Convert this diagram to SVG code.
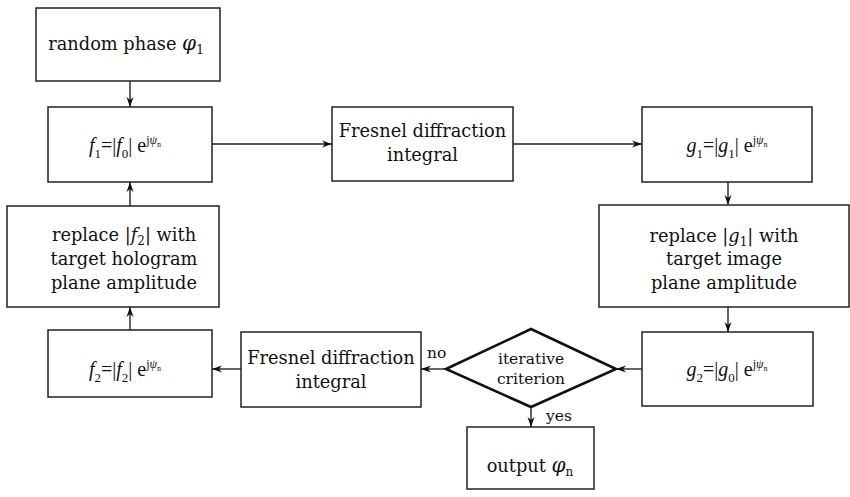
<svg xmlns="http://www.w3.org/2000/svg" width="850" height="497" viewBox="0 0 850 497">
<style>
  .box{fill:#fff;stroke:#222;stroke-width:1.5}
  .dia{fill:#fff;stroke:#111;stroke-width:2.6}
  .t{font-family:"DejaVu Serif","Liberation Serif",serif;font-size:17.8px;fill:#111;text-anchor:middle}
  .m{font-family:"Liberation Serif","DejaVu Serif",serif;font-size:20px;fill:#111;text-anchor:middle}
  .s{font-family:"DejaVu Serif","Liberation Serif",serif;font-size:15.5px;fill:#111;text-anchor:middle}
  .l{font-family:"DejaVu Serif","Liberation Serif",serif;font-size:15.5px;fill:#111}
  .i{font-style:italic}
  .c{fill:none;stroke:#222;stroke-width:1.4}
</style>
<defs>
  <marker id="ah" markerWidth="11" markerHeight="8" refX="10" refY="4" orient="auto" markerUnits="userSpaceOnUse">
    <path d="M0,0.5 L10,4 L0,7.5 L3,4 z" fill="#111"/>
  </marker>
</defs>
<g id="connectors">
  <line class="c" x1="130" y1="81" x2="130" y2="107" marker-end="url(#ah)"/>
  <line class="c" x1="212" y1="144" x2="332" y2="144" marker-end="url(#ah)"/>
  <line class="c" x1="513" y1="144" x2="642" y2="144" marker-end="url(#ah)"/>
  <line class="c" x1="728" y1="182" x2="728" y2="205" marker-end="url(#ah)"/>
  <line class="c" x1="728" y1="307" x2="728" y2="332" marker-end="url(#ah)"/>
  <line class="c" x1="642" y1="369" x2="616" y2="369" marker-end="url(#ah)"/>
  <line class="c" x1="446" y1="369" x2="421" y2="369" marker-end="url(#ah)"/>
  <line class="c" x1="241" y1="369" x2="212" y2="369" marker-end="url(#ah)"/>
  <line class="c" x1="130" y1="330" x2="130" y2="307" marker-end="url(#ah)"/>
  <line class="c" x1="130" y1="206" x2="130" y2="182" marker-end="url(#ah)"/>
  <line class="c" x1="531" y1="407" x2="531" y2="427" marker-end="url(#ah)"/>
  <text class="l" x="427" y="358">no</text>
  <text class="l" x="546" y="421">yes</text>
</g>
<g id="random-phase">
  <rect class="box" x="36" y="8" width="184" height="73"/>
  <text class="t" x="126" y="50">random phase <tspan class="i" font-size="20">φ</tspan><tspan font-size="12" dy="4">1</tspan></text>
</g>
<g id="f1">
  <rect class="box" x="48" y="107" width="164" height="75"/>
  <text class="m" x="125" y="152"><tspan class="i">f</tspan><tspan font-size="13" dy="6">1</tspan><tspan dy="-6">=|</tspan><tspan class="i">f</tspan><tspan font-size="13" dy="6">0</tspan><tspan dy="-6">| e</tspan><tspan font-size="12" dy="-8">j</tspan><tspan font-size="12" class="i">ψ</tspan><tspan font-size="8" dy="3">n</tspan></text>
</g>
<g id="fresnel-top">
  <rect class="box" x="332" y="107" width="181" height="74"/>
  <text class="t" x="422.5" y="137">Fresnel diffraction</text>
  <text class="t" x="422.5" y="161">integral</text>
</g>
<g id="g1">
  <rect class="box" x="642" y="107" width="170" height="75"/>
  <text class="m" x="727" y="152"><tspan class="i">g</tspan><tspan font-size="13" dy="6">1</tspan><tspan dy="-6">=|</tspan><tspan class="i">g</tspan><tspan font-size="13" dy="6">1</tspan><tspan dy="-6">| e</tspan><tspan font-size="12" dy="-8">j</tspan><tspan font-size="12" class="i">ψ</tspan><tspan font-size="8" dy="3">n</tspan></text>
</g>
<g id="replace-g1">
  <rect class="box" x="599" y="205" width="250" height="102"/>
  <text class="t" x="724" y="242">replace |<tspan class="i">g</tspan><tspan font-size="12" dy="4">1</tspan><tspan dy="-4">| with</tspan></text>
  <text class="t" x="724" y="265">target image</text>
  <text class="t" x="724" y="289">plane amplitude</text>
</g>
<g id="g2">
  <rect class="box" x="642" y="332" width="171" height="74"/>
  <text class="m" x="727" y="376"><tspan class="i">g</tspan><tspan font-size="13" dy="6">2</tspan><tspan dy="-6">=|</tspan><tspan class="i">g</tspan><tspan font-size="13" dy="6">0</tspan><tspan dy="-6">| e</tspan><tspan font-size="12" dy="-8">j</tspan><tspan font-size="12" class="i">ψ</tspan><tspan font-size="8" dy="3">n</tspan></text>
</g>
<g id="criterion">
  <polygon class="dia" points="531,329 616,369 531,407 446,369"/>
  <text class="s" x="531" y="364">iterative</text>
  <text class="s" x="531" y="384">criterion</text>
</g>
<g id="output">
  <rect class="box" x="467" y="427" width="127" height="62"/>
  <text class="t" x="530" y="472">output <tspan class="i" font-size="20">φ</tspan><tspan font-size="12" dy="4">n</tspan></text>
</g>
<g id="fresnel-bottom">
  <rect class="box" x="241" y="332" width="180" height="75"/>
  <text class="t" x="331" y="364">Fresnel diffraction</text>
  <text class="t" x="331" y="388">integral</text>
</g>
<g id="f2">
  <rect class="box" x="48" y="330" width="164" height="67"/>
  <text class="m" x="125" y="376"><tspan class="i">f</tspan><tspan font-size="13" dy="6">2</tspan><tspan dy="-6">=|</tspan><tspan class="i">f</tspan><tspan font-size="13" dy="6">2</tspan><tspan dy="-6">| e</tspan><tspan font-size="12" dy="-8">j</tspan><tspan font-size="12" class="i">ψ</tspan><tspan font-size="8" dy="3">n</tspan></text>
</g>
<g id="replace-f2">
  <rect class="box" x="7" y="206" width="212" height="101"/>
  <text class="t" x="124" y="241">replace |<tspan class="i">f</tspan><tspan font-size="12" dy="4">2</tspan><tspan dy="-4">| with</tspan></text>
  <text class="t" x="124" y="265">target hologram</text>
  <text class="t" x="124" y="289">plane amplitude</text>
</g>
</svg>
